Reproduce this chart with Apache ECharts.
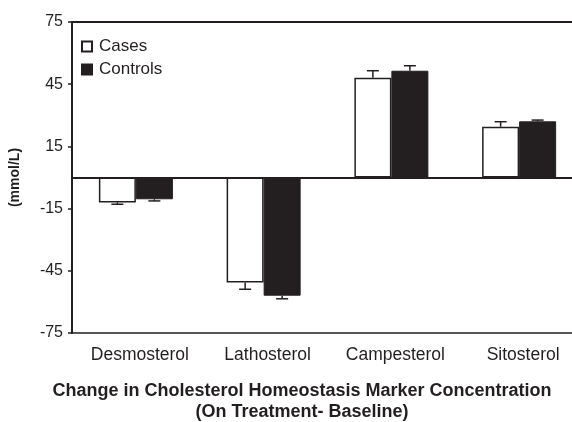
<!DOCTYPE html>
<html>
<head>
<meta charset="utf-8">
<script src="https://cdn.jsdelivr.net/npm/echarts@6/dist/echarts.min.js"></script>
<style>
  html, body { margin: 0; padding: 0; background: #fff; }
  #chart { width: 572px; height: 422px; }
</style>
</head>
<body>
<div id="chart"></div>
<script>
// data
const markers = ['Desmosterol', 'Lathosterol', 'Campesterol', 'Sitosterol']
const casesMean = [-12, -50.6, 48.1, 24.5]
const casesErr = [0.9, 3.3, 3.4, 2.4]
const controlsMean = [-10.5, -57, 51.5, 27.1]
const controlsErr = [0.8, 1.5, 2.4, 0.6]
const yTicks = [-75, -45, -15, 15, 45, 75]

const ink = '#231f20'
const barWidth = 37

// error bar (one-sided, away from zero) drawn next to each bar
const errorSeries = (mean, err, shift) => ({
  type: 'custom',
  silent: true,
  z: 5,
  data: mean.map((v, i) => [i, v, err[i]]),
  renderItem: (params, api) => {
    const i = api.value(0)
    const v = api.value(1)
    const e = api.value(2)
    const end = v >= 0 ? v + e : v - e
    const p0 = api.coord([i, v])
    const p1 = api.coord([i, end])
    const x = p0[0] + shift
    const style = { stroke: ink, lineWidth: 1.5 }
    return {
      type: 'group',
      children: [
        { type: 'line', shape: { x1: x, y1: p0[1], x2: x, y2: p1[1] }, style },
        { type: 'line', shape: { x1: x - 6, y1: p1[1], x2: x + 6, y2: p1[1] }, style }
      ]
    }
  }
})

const chart = echarts.init(document.getElementById('chart'))
chart.setOption({
  animation: false,
  textStyle: { fontFamily: 'Liberation Sans, Arial, sans-serif', color: ink },
  title: {
    text: 'Change in Cholesterol Homeostasis Marker Concentration\n(On Treatment- Baseline)',
    left: 302,
    top: 381,
    padding: 0,
    textAlign: 'center',
    textStyle: { fontSize: 18, fontWeight: 'bold', color: ink, lineHeight: 21 }
  },
  legend: {
    orient: 'vertical',
    left: 81,
    top: 38,
    padding: 0,
    itemWidth: 10,
    itemHeight: 10,
    itemGap: 6,
    icon: 'rect',
    data: ['Cases', 'Controls'],
    textStyle: { fontSize: 17, color: ink, padding: [0, 0, 0, 2] }
  },
  // plot runs past the right edge in the source, so let it overflow
  grid: { left: 72, top: 22, width: 511, height: 311, outerBoundsMode: 'none', containLabel: false },
  xAxis: [
    {
      type: 'category',
      data: markers,
      position: 'bottom',
      axisLine: { onZero: false, lineStyle: { color: ink, width: 1.5 } },
      axisTick: { show: false },
      axisLabel: { interval: 0, hideOverlap: false, fontSize: 17.5, color: ink, margin: 13, padding: [0, 0, 0, 8] }
    },
    {
      type: 'category',
      data: markers,
      position: 'top',
      axisLine: { onZero: false, lineStyle: { color: ink, width: 2 } },
      axisTick: { show: false },
      axisLabel: { show: false }
    }
  ],
  yAxis: {
    type: 'value',
    min: yTicks[0],
    max: yTicks[yTicks.length - 1],
    interval: 30,
    name: '(mmol/L)',
    nameLocation: 'middle',
    nameGap: 50,
    nameTextStyle: { fontSize: 14, fontWeight: 'bold', color: ink },
    splitLine: { show: false },
    axisLine: { show: true, lineStyle: { color: ink, width: 2 } },
    axisTick: { show: true, length: 4, lineStyle: { color: ink, width: 1.5 } },
    axisLabel: { fontSize: 16, color: ink, margin: 9 }
  },
  series: [
    {
      name: 'Cases',
      type: 'bar',
      data: casesMean,
      barWidth: barWidth,
      barGap: '0%',
      itemStyle: { color: '#fff', borderColor: ink, borderWidth: 1.5 },
      markLine: {
        silent: true,
        symbol: 'none',
        label: { show: false },
        lineStyle: { color: ink, width: 2, type: 'solid' },
        data: [{ yAxis: 0 }]
      }
    },
    {
      name: 'Controls',
      type: 'bar',
      data: controlsMean,
      barWidth: barWidth,
      barGap: '0%',
      itemStyle: { color: ink, borderColor: ink, borderWidth: 1 }
    },
    errorSeries(casesMean, casesErr, -barWidth / 2),
    errorSeries(controlsMean, controlsErr, barWidth / 2)
  ]
})
</script>
</body>
</html>
